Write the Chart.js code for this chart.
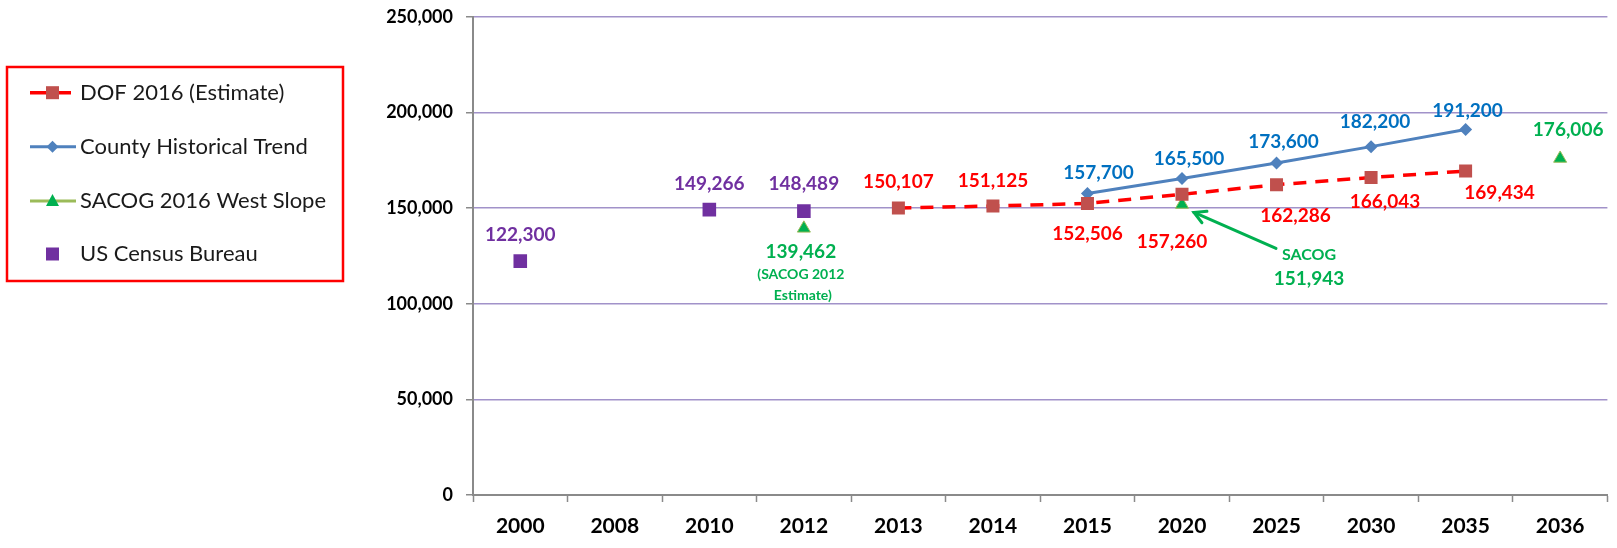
<!DOCTYPE html>
<html><head><meta charset="utf-8">
<script src="https://cdn.jsdelivr.net/npm/chart.js@4/dist/chart.umd.min.js"></script>
<style>html,body{margin:0;padding:0;background:#fff;} #wrap{width:1617px;height:548px;position:relative}</style>
</head><body><div id="wrap"><canvas id="c" width="1617" height="548"></canvas></div>
<script>
// ---- data ----
const categories = ['2000','2008','2010','2012','2013','2014','2015','2020','2025','2030','2035','2036'];
const dofValues    = [null, null, null, null, 150107, 151125, 152506, 157260, 162286, 166043, 169434, null];
const countyValues = [null, null, null, null, null, null, 157700, 165500, 173600, 182200, 191200, null];
const sacogValues  = [null, null, null, 139462, null, null, null, 151943, null, null, null, 176006];
const censusValues = [122300, null, 149266, 148489, null, null, null, null, null, null, null, null];
const yTickValues  = [0, 50000, 100000, 150000, 200000, 250000];
const seriesNames  = ['DOF 2016 (Estimate)', 'County Historical Trend', 'SACOG 2016 West Slope', 'US Census Bureau'];
const sacog2012Note = ['(SACOG 2012', 'Estimate)'];
const sacog2020Note = 'SACOG';

// ---- styles ----
const FONT = 'Lato, "Open Sans", sans-serif';
const colors = {
  dofLine: '#FF0000', dofMark: '#C0504D', dofText: '#FF0000',
  countyLine: '#4F81BD', countyText: '#0070C0',
  sacogLine: '#9BBB59', sacogMark: '#00B050', sacogText: '#00B050',
  census: '#7030A0', grid: '#A192C9', axis: '#8A8A8A'
};
// label offsets in px relative to the plotted point: [dx, dy]
const labelOffsets = [
  {4:[0,-26],5:[0,-25],6:[0,30],7:[-10,48],8:[19,31],9:[14,24],10:[34,22]},
  {6:[11,-21],7:[7,-20],8:[7,-21],9:[4,-25],10:[2,-19]},
  {3:[-3,24],11:[8,-29]},
  {0:[0,-26],2:[0,-26],3:[0,-27]}
];
const labelColors = [colors.dofText, colors.countyText, colors.sacogText, colors.census];

const fmt = v => v.toLocaleString('en-US');

const labelPlugin = {
  id: 'labels',
  afterDatasetsDraw(chart) {
    const ctx = chart.ctx;
    ctx.save();
    ctx.textAlign = 'center';
    ctx.textBaseline = 'middle';
    chart.data.datasets.forEach((ds, di) => {
      const meta = chart.getDatasetMeta(di);
      ds.data.forEach((v, i) => {
        if (v == null) return;
        const pt = meta.data[i];
        const off = labelOffsets[di][i];
        ctx.fillStyle = labelColors[di];
        if (off) {
          ctx.font = 'bold 19px ' + FONT;
          ctx.fillText(fmt(v), pt.x + off[0], pt.y + off[1]);
        }
        if (di === 2 && i === 3) {
          ctx.font = 'bold 14px ' + FONT;
          ctx.fillText(sacog2012Note[0], pt.x - 3, pt.y + 46);
          ctx.fillText(sacog2012Note[1], pt.x - 1, pt.y + 67);
        }
        if (di === 2 && i === 7) {
          ctx.font = 'bold 16px ' + FONT;
          ctx.fillText(sacog2020Note, pt.x + 127, pt.y + 50);
          ctx.font = 'bold 19px ' + FONT;
          ctx.fillText(fmt(v), pt.x + 127, pt.y + 74);
          // arrow
          const x1 = pt.x + 94, y1 = pt.y + 44, x2 = pt.x + 12, y2 = pt.y + 8;
          ctx.strokeStyle = colors.sacogText;
          ctx.lineWidth = 3;
          ctx.lineCap = 'round';
          ctx.beginPath(); ctx.moveTo(x1, y1); ctx.lineTo(x2, y2); ctx.stroke();
          const a = Math.atan2(y2 - y1, x2 - x1);
          const L = 13;
          ctx.beginPath();
          ctx.moveTo(x2 - L * Math.cos(a - 0.5), y2 - L * Math.sin(a - 0.5));
          ctx.lineTo(x2, y2);
          ctx.lineTo(x2 - L * Math.cos(a + 0.5), y2 - L * Math.sin(a + 0.5));
          ctx.stroke();
        }
      });
    });
    ctx.restore();
  }
};

const legendPlugin = {
  id: 'boxLegend',
  afterDraw(chart) {
    const ctx = chart.ctx;
    ctx.save();
    ctx.strokeStyle = '#FF0000';
    ctx.lineWidth = 2.5;
    ctx.strokeRect(7, 67, 336, 214);
    const ys = [92.7, 146.7, 201, 254];
    const mx = 52.5;
    // DOF
    ctx.lineWidth = 3.5; ctx.strokeStyle = colors.dofLine;
    ctx.beginPath(); ctx.moveTo(30, ys[0]); ctx.lineTo(71, ys[0]); ctx.stroke();
    ctx.fillStyle = colors.dofMark; ctx.fillRect(mx - 6.5, ys[0] - 6.5, 13, 13);
    // County
    ctx.lineWidth = 3; ctx.strokeStyle = colors.countyLine;
    ctx.beginPath(); ctx.moveTo(30, ys[1]); ctx.lineTo(76, ys[1]); ctx.stroke();
    ctx.fillStyle = colors.countyLine;
    ctx.beginPath(); ctx.moveTo(mx, ys[1] - 6); ctx.lineTo(mx + 6, ys[1]); ctx.lineTo(mx, ys[1] + 6); ctx.lineTo(mx - 6, ys[1]); ctx.closePath(); ctx.fill();
    // SACOG
    ctx.strokeStyle = colors.sacogLine;
    ctx.beginPath(); ctx.moveTo(30, ys[2]); ctx.lineTo(76, ys[2]); ctx.stroke();
    ctx.fillStyle = colors.sacogMark;
    ctx.beginPath(); ctx.moveTo(mx, ys[2] - 7); ctx.lineTo(mx + 6.5, ys[2] + 5); ctx.lineTo(mx - 6.5, ys[2] + 5); ctx.closePath(); ctx.fill();
    // Census
    ctx.fillStyle = colors.census; ctx.fillRect(mx - 6.5, ys[3] - 6.5, 13, 13);
    // text
    ctx.fillStyle = '#1a1a1a';
    ctx.font = '22px ' + FONT;
    ctx.textAlign = 'left'; ctx.textBaseline = 'middle';
    seriesNames.forEach((n, i) => ctx.fillText(n, 80, ys[i]));
    ctx.restore();
  }
};

new Chart(document.getElementById('c'), {
  type: 'line',
  data: {
    labels: categories,
    datasets: [
      { label: seriesNames[0], data: dofValues, borderColor: colors.dofLine, borderWidth: 3.5,
        borderDash: [13, 9], backgroundColor: colors.dofMark, pointBackgroundColor: colors.dofMark,
        pointBorderColor: colors.dofMark, pointBorderWidth: 0, pointStyle: 'rect', pointRadius: 9.2, tension: 0 },
      { label: seriesNames[1], data: countyValues, borderColor: colors.countyLine, borderWidth: 3,
        pointBackgroundColor: colors.countyLine, pointBorderColor: colors.countyLine, pointBorderWidth: 0,
        pointStyle: 'rectRot', pointRadius: 6.5, tension: 0 },
      { label: seriesNames[2], data: sacogValues, borderColor: colors.sacogLine, showLine: false,
        pointBackgroundColor: colors.sacogMark, pointBorderColor: colors.sacogLine, pointBorderWidth: 1,
        pointStyle: 'triangle', pointRadius: 7.5 },
      { label: seriesNames[3], data: censusValues, showLine: false,
        pointBackgroundColor: colors.census, pointBorderColor: colors.census, pointBorderWidth: 0,
        pointStyle: 'rect', pointRadius: 9.6 }
    ]
  },
  options: {
    responsive: false, animation: false, devicePixelRatio: 1,
    layout: { padding: { left: 0, top: 17, right: 3, bottom: 0 } },
    plugins: { legend: { display: false }, tooltip: { enabled: false } },
    scales: {
      x: {
        offset: true,
        grid: { drawOnChartArea: false, offset: true, tickLength: 7, tickColor: colors.axis, tickWidth: 1.5 },
        border: { color: colors.axis, width: 2 },
        ticks: { color: '#000', font: { family: FONT, size: 21, weight: 'bold' }, padding: 12, maxRotation: 0 },
        afterFit(s) { s.height = 53; s.paddingLeft = 0; s.paddingRight = 0; }
      },
      y: {
        min: 0, max: 250000,
        afterBuildTicks(s) { s.ticks = yTickValues.map(v => ({ value: v })); },
        grid: { color: ctx => ctx.tick && ctx.tick.value === 0 ? 'rgba(0,0,0,0)' : colors.grid,
                lineWidth: 1.5, tickLength: 7, tickColor: colors.axis, tickWidth: 1.5 },
        border: { color: colors.axis, width: 2 },
        ticks: { color: '#000', font: { family: FONT, size: 18, weight: 'bold' }, padding: 13,
                 callback: v => fmt(v) },
        afterFit(s) { s.width = 473; s.paddingTop = 0; s.paddingBottom = 0; }
      }
    }
  },
  plugins: [labelPlugin, legendPlugin]
});
</script>
</body></html>
